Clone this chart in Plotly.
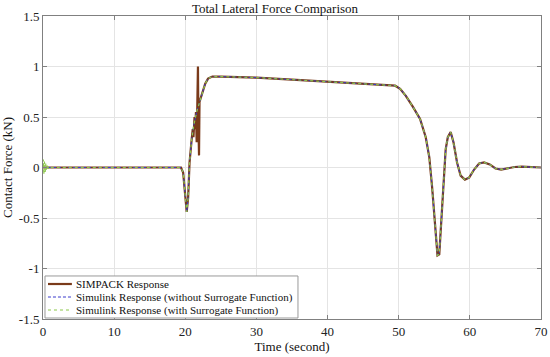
import plotly.graph_objects as go

# Shared response shape (time in s, force in kN)
t_base = [0, 19.4, 19.7, 19.95, 20.2, 20.4, 20.6, 20.9, 21.2, 21.6, 22.0, 22.4, 22.8, 23.2, 23.8,
          25, 30, 35, 40, 45, 49.5, 50.2, 51, 52, 53, 53.8, 54.3, 54.7, 55.1, 55.45, 55.7, 56.0,
          56.3, 56.6, 56.9, 57.3, 57.7, 58.2, 58.7, 59.3, 59.9, 60.6, 61.3, 62, 62.8, 63.6, 64.4,
          65.3, 66.3, 67.3, 68.5, 70]
f_base = [0, 0, -0.05, -0.25, -0.44, -0.3, 0.05, 0.28, 0.42, 0.55, 0.65, 0.74, 0.83, 0.88, 0.9,
          0.9, 0.89, 0.87, 0.85, 0.83, 0.81, 0.78, 0.71, 0.6, 0.48, 0.3, 0.1, -0.2, -0.6, -0.87, -0.86, -0.55,
          -0.15, 0.18, 0.3, 0.35, 0.25, 0.05, -0.08, -0.12, -0.1, -0.02, 0.04, 0.05, 0.03, -0.01, -0.02,
          -0.01, 0.005, 0.008, 0.002, 0]

# SIMPACK: includes the jagged segment near 21-22 s
t_simpack = [0, 19.4, 19.7, 19.95, 20.2, 20.4, 20.6, 20.9, 21.05, 21.15, 21.3, 21.4, 21.5, 21.6, 21.7,
             21.78, 21.85, 21.93, 22.0, 22.4, 22.8, 23.2, 23.8] + t_base[15:]
f_simpack = [0, 0, -0.05, -0.25, -0.44, -0.3, 0.05, 0.28, 0.38, 0.3, 0.5, 0.38, 0.55, 0.25, 0.6,
             1.0, 0.4, 0.12, 0.65, 0.74, 0.83, 0.88, 0.9] + f_base[15:]

# Simulink without surrogate function
t_without = list(t_base)
f_without = list(f_base)

# Simulink with surrogate function: initial transient near 0 s
t_with = [0, 0.05, 0.12, 0.2, 0.3, 0.4, 0.5, 0.6, 0.75, 0.9, 1.1] + t_base[1:]
f_with = [0, 0.08, -0.07, 0.06, -0.05, 0.04, -0.03, 0.03, -0.01, 0.01, 0] + f_base[1:]

x_ticks = [0, 10, 20, 30, 40, 50, 60, 70]
y_ticks = [-1.5, -1, -0.5, 0, 0.5, 1, 1.5]
y_tick_labels = ["-1.5", "-1", "-0.5", "0", "0.5", "1", "1.5"]

series_names = ["SIMPACK Response",
                "Simulink Response (without Surrogate Function)",
                "Simulink Response (with Surrogate Function)"]
series_colors = ["#7a3a1a", "#3a3acc", "#8cc84b"]
series_widths = [2.2, 1.0, 1.2]
series_dashes = ["solid", "3px,2px", "dot"]

font = "Liberation Serif"

fig = go.Figure()
for (tx, fy), name, col, w, d in zip([(t_simpack, f_simpack), (t_without, f_without), (t_with, f_with)],
                                      series_names, series_colors, series_widths, series_dashes):
    fig.add_trace(go.Scatter(x=tx, y=fy, mode="lines", name=name,
                             line=dict(color=col, width=w, dash=d)))

axis_common = dict(showgrid=True, gridcolor="#e4e4e4", gridwidth=1, zeroline=False,
                   showline=True, linecolor="#808080", linewidth=1, mirror="allticks",
                   ticks="inside", ticklen=4, tickcolor="#808080", automargin=False,
                   tickfont=dict(family=font, size=13, color="#222"))

fig.update_layout(
    width=550, height=357,
    margin=dict(l=43, r=9, t=16, b=38),
    paper_bgcolor="white", plot_bgcolor="white",
    title=dict(text="Total Lateral Force Comparison", x=0.5, xanchor="center",
               yref="container", y=0.975, yanchor="middle",
               font=dict(family=font, size=13, color="#111")),
    font=dict(family=font, color="#111"),
    xaxis=dict(range=[0, 70], tickvals=x_ticks,
               title=dict(text="Time (second)", font=dict(family=font, size=13), standoff=4),
               **axis_common),
    yaxis=dict(range=[-1.5, 1.5], tickvals=y_ticks, ticktext=y_tick_labels,
               title=dict(text="Contact Force (kN)", font=dict(family=font, size=13), standoff=5),
               **axis_common),
    showlegend=False,
)

# Compact MATLAB-style legend box (bottom-left, inside the axes)
fig.add_shape(type="rect", xref="paper", yref="paper", x0=0.004, x1=0.512, y0=0.0033, y1=0.142,
              line=dict(color="#999", width=1), fillcolor="white", layer="above")
row_y = [0.1155, 0.0726, 0.0297]
for ry, name, col, w, d in zip(row_y, series_names, series_colors, series_widths, series_dashes):
    fig.add_shape(type="line", xref="paper", yref="paper", x0=0.010, x1=0.058, y0=ry, y1=ry,
                  line=dict(color=col, width=w, dash=d), layer="above")
    fig.add_annotation(xref="paper", yref="paper", x=0.0622, y=ry, text=name, showarrow=False,
                       xanchor="left", yanchor="middle",
                       font=dict(family=font, size=11, color="#111"))

fig.write_html("out.html", config={"displayModeBar": False},
               post_script="document.body.style.margin='0';document.body.style.padding='0';")
